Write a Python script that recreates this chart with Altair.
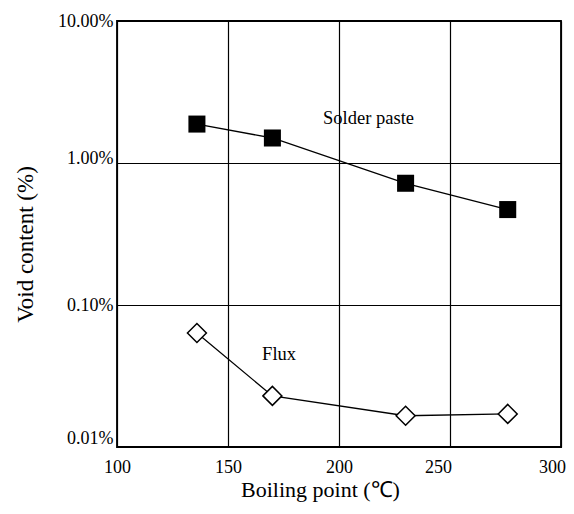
import altair as alt
import pandas as pd

boiling = [136, 170, 230, 276]
solder = [1.88, 1.50, 0.72, 0.47]
flux = [0.0635, 0.0229, 0.0166, 0.0171]
y_ticks = [0.01, 0.1, 1, 10]
x_ticks = [100, 150, 200, 250, 300]
labels = ["Solder paste", "Flux"]
label_x = [213.3, 173]
label_y = [2.09, 0.0455]

df = pd.DataFrame({
    "bp": boiling * 2,
    "void": solder + flux,
    "series": ["Solder paste"] * 4 + ["Flux"] * 4,
})
lab = pd.DataFrame({"bp": label_x, "void": label_y, "text": labels})

FONT = "Liberation Serif"

x = alt.X("bp:Q", scale=alt.Scale(domain=[100, 300], nice=False),
          axis=alt.Axis(values=x_ticks, title="Boiling point (℃)", labelPadding=11,
                        titleFontSize=22, titleBaseline="alphabetic",
                        titleX=203, titleY=49,
                        labelOffset={"condition": [
                            {"test": "datum.value == 250", "value": -12},
                            {"test": "datum.value == 300", "value": -9}],
                            "value": 0}))
y = alt.Y("void:Q", scale=alt.Scale(type="log", domain=[0.01, 10], nice=False),
          axis=alt.Axis(values=y_ticks, title="Void content (%)",
                        labelExpr="format(datum.value, '.2f') + '%'",
                        labelPadding=4, titlePadding=20, titleFontSize=23,
                        titleY=223,
                        labelOffset={"condition": [
                            {"test": "datum.value == 0.01", "value": -9},
                            {"test": "datum.value == 1", "value": -5}],
                            "value": 0}))

lines = alt.Chart(df).mark_line(color="black", strokeWidth=1.3).encode(
    x=x, y=y, detail="series:N")

sq = alt.Chart(df[df.series == "Solder paste"]).mark_point(
    shape="square", filled=True, color="black", size=290, opacity=1).encode(x=x, y=y)

dm = alt.Chart(df[df.series == "Flux"]).mark_point(
    shape="diamond", filled=True, fill="white", stroke="black", strokeWidth=1.5,
    size=360, opacity=1).encode(x=x, y=y)

txt = alt.Chart(lab).mark_text(font=FONT, fontSize=18.5, color="black").encode(
    x=x, y=y, text="text:N")

chart = alt.layer(lines, sq, dm, txt).properties(
    width=444, height=426,
    autosize=alt.AutoSizeParams(type="none"),
    padding={"left": 109, "top": 13, "right": 5, "bottom": 59},
).configure_view(stroke="black", strokeWidth=1.8).configure_axis(
    grid=True, gridColor="black", gridOpacity=1, gridWidth=1.2,
    domain=False, ticks=False,
    labelFont=FONT, labelFontSize=18, labelColor="black",
    titleFont=FONT, titleColor="black", titleFontWeight="normal",
    labelFlush=False, labelOverlap=False,
)

chart.save("out.html", embed_options={"renderer": "svg", "actions": False})
